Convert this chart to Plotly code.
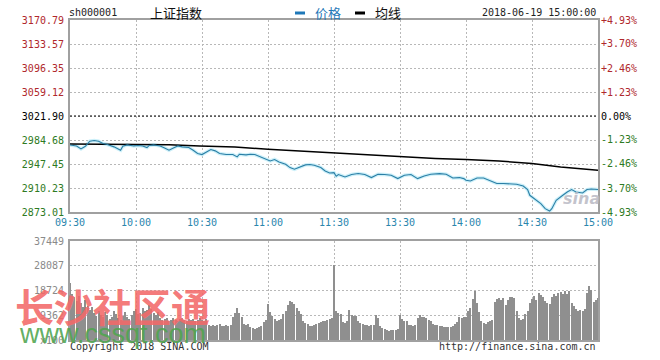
import plotly.graph_objects as go

# ---------------- data ----------------
prev_close = 3021.90
time_labels = ["09:30", "10:00", "10:30", "11:00", "11:30", "13:30", "14:00", "14:30", "15:00"]
time_ticks = [0, 30, 60, 90, 120, 150, 180, 210, 240]

price_ticks = [3170.79, 3133.57, 3096.35, 3059.12, 3021.90, 2984.68, 2947.45, 2910.23, 2873.01]
pct_ticks = [4.93, 3.70, 2.46, 1.23, 0.0, -1.23, -2.46, -3.70, -4.93]
pct_labels = ["+4.93%", "+3.70%", "+2.46%", "+1.23%", "0.00%", "-1.23%", "-2.46%", "-3.70%", "-4.93%"]

price_minutes = [0, 3, 5, 7, 9, 11, 13, 15, 17, 20, 23, 24, 26, 29, 31, 33, 35, 36, 38, 41,
                 43, 45, 47, 49, 51, 54, 56, 58, 60, 64, 66, 68, 71, 74, 76, 77, 80, 82, 84, 86,
                 89, 91, 93, 95, 98, 100, 102, 104, 107, 109, 111, 114, 116, 118, 120, 121, 122, 125, 128, 131,
                 134, 137, 140, 143, 146, 149, 152, 155, 158, 161, 164, 168, 171, 174, 177, 179, 180, 182, 185, 188,
                 191, 194, 197, 200, 203, 206, 208, 209, 212, 214, 216, 218, 219, 221, 224, 226, 228, 230, 233, 235,
                 237, 240]
price_values = [2977.0, 2975.5, 2970.9, 2975.0, 2982.8, 2983.9, 2982.8, 2979.2, 2977.7, 2974.0,
                2968.8, 2975.0, 2977.1, 2975.5, 2976.2, 2975.5, 2973.0, 2976.2, 2977.1, 2975.5,
                2972.4, 2968.8, 2972.4, 2975.5, 2974.0, 2973.0, 2968.8, 2963.7, 2962.1, 2969.9,
                2967.8, 2963.7, 2962.1, 2962.1, 2958.5, 2962.6, 2961.6, 2962.6, 2962.1, 2959.5,
                2954.4, 2952.2, 2954.4, 2950.7, 2947.1, 2941.9, 2939.3, 2941.9, 2946.1, 2946.6,
                2945.6, 2941.9, 2936.7, 2933.6, 2934.0, 2928.5, 2931.1, 2927.4, 2931.1, 2932.6,
                2931.1, 2926.4, 2931.6, 2931.1, 2930.0, 2924.8, 2930.0, 2931.1, 2924.8, 2928.9,
                2931.6, 2932.6, 2931.6, 2925.8, 2926.4, 2924.8, 2922.3, 2921.2, 2925.8, 2925.8,
                2921.2, 2917.1, 2917.1, 2916.0, 2916.0, 2913.4, 2907.8, 2898.9, 2891.2, 2886.0,
                2878.2, 2874.5, 2878.2, 2891.2, 2898.9, 2904.1, 2907.8, 2904.1, 2902.5, 2907.8,
                2908.7, 2907.8]

avg_minutes = [0, 30, 45, 59, 75, 90, 105, 120, 134, 150, 166, 180, 195, 210, 223, 240]
avg_values = [2978.5, 2978.0, 2977.5, 2975.5, 2973.8, 2970.4, 2967.5, 2964.5, 2961.1, 2958.5,
              2956.0, 2954.4, 2952.2, 2948.1, 2942.9, 2937.8]

vol_ticks = [0, 9362, 18724, 28087, 37449]
vol_tick_labels = ["x100", "9362", "18724", "28087", "37449"]

morning_volume = [
    21400,
    17500, 16200, 14800, 16800, 13800, 12600, 15200,
    12800, 11200, 12300, 10100, 9200, 10800, 9600,
    8800, 10500, 9400, 7800, 8600, 11000, 9700, 8200, 7600, 9000, 10400, 8700, 7900, 9300,
    10800, 11600, 9900, 10300, 12100, 10900, 11400, 13100, 11800, 10200, 9600, 10600,
    8200, 7600, 7900, 8400, 7300, 7700, 8100, 7400, 7000, 7800, 8300, 7500, 7200, 7900, 7600,
    8000, 7300, 7700, 8200, 7500, 7100, 7800,
    5800, 5400, 5600, 5200, 5500, 5900, 5300, 5100, 5700, 5400, 5600,
    8500, 10200, 12200, 10000, 8800,
    6200, 5800, 6000,
    4800, 4500, 4200, 4400, 4700, 5200,
    6800, 7600,
    13500,
    10500, 9200,
    7800, 7200, 7500, 7900,
    9800, 10800,
    13200, 14800, 14500, 13600,
    12000, 11000, 9800,
    7200, 6500, 6100,
    5400, 5200, 5500,
    6000, 6500, 6800, 7200, 7000, 7500, 7800, 8300,
    28200,
]
afternoon_volume = [
    11000, 10200, 9800,
    6800, 6500, 7000,
    11300,
    9400, 9000, 9200,
    7000, 6300, 6000,
    5700, 5500, 5400, 5600, 5800,
    9600,
    8400,
    5200, 4600,
    4200, 3800, 3500, 3600, 3700, 3900, 4300,
    9600,
    7800, 7300, 7000,
    5800, 5600, 5400, 5700,
    8200, 9400, 8800,
    8600, 8200, 7600, 7100,
    6000, 5700, 5500, 5400,
    5200, 5000, 4900, 4800, 5000, 5300,
    6200, 6800,
    8600, 8300, 8800, 8500,
    10800, 12000,
    15300,
    18400,
    14000,
    10500,
    7200, 6500, 6200, 6600, 7000,
    7700,
    14200, 15300,
    15800, 15200, 16000,
    13400,
    15000, 16200, 16300, 15800,
    11000,
    8300, 7600, 7900,
    9800, 11000,
    14000, 15400, 16800, 15000,
    17600, 17000, 16200,
    14800, 14000, 13500,
    16400, 17300, 16800, 17800,
    18300, 17200, 18600, 17500, 18500,
    13800, 12800, 11600,
    10800, 11200, 10900, 11800,
    17800, 20300, 19000,
    14500, 15200, 16000,
]
volume = morning_volume + afternoon_volume
volume_minutes = list(range(len(volume)))

# ---------------- styling ----------------
RED = "#b0282c"
GREEN = "#2e7a22"
BLACK = "#000000"
MONO = "DejaVu Sans Mono"
GRID = "#b8b8b8"
FRAME = "#a0a0a0"


def tick_color(v):
    if v > 0:
        return RED
    if v < 0:
        return GREEN
    return BLACK


price_ticktext = [f'<span style="color:{tick_color(p - prev_close)}">{p:.2f}</span>' for p in price_ticks]
pct_ticktext = [f'<span style="color:{tick_color(v)}">{t}</span>' for v, t in zip(pct_ticks, pct_labels)]
pct_values = [(p / prev_close - 1) * 100 for p in price_values]

fig = go.Figure()

# volume bars
fig.add_trace(go.Bar(x=volume_minutes, y=volume, xaxis="x2", yaxis="y2",
                     marker=dict(color="#8f8f8f", line=dict(width=0)), width=0.45,
                     hoverinfo="skip", showlegend=False))

# price halo + line
fig.add_trace(go.Scatter(x=price_minutes, y=price_values, mode="lines", xaxis="x", yaxis="y",
                         line=dict(color="rgba(200,238,248,0.9)", width=3.5),
                         hoverinfo="skip", showlegend=False))
fig.add_trace(go.Scatter(x=avg_minutes, y=avg_values, mode="lines", xaxis="x", yaxis="y",
                         line=dict(color=BLACK, width=1.5), name="均线", showlegend=False))
fig.add_trace(go.Scatter(x=price_minutes, y=price_values, mode="lines", xaxis="x", yaxis="y",
                         line=dict(color="#2b7fa6", width=1.1), name="价格", showlegend=False))
# invisible trace for the percentage axis
fig.add_trace(go.Scatter(x=price_minutes, y=pct_values, mode="lines", xaxis="x", yaxis="y3",
                         line=dict(width=0), opacity=0, hoverinfo="skip", showlegend=False))

grid_common = dict(showgrid=True, gridcolor=GRID, griddash="2px,2px", gridwidth=1,
                   showline=True, linecolor=FRAME, linewidth=2, mirror=True,
                   zeroline=False, ticks="")

fig.update_layout(
    width=660, height=360, autosize=False,
    margin=dict(l=70, r=62, t=20, b=20),
    paper_bgcolor="white", plot_bgcolor="white",
    bargap=0,
    xaxis=dict(domain=[0, 1], anchor="y", range=[0, 240], tickvals=time_ticks, ticktext=time_labels,
               tickfont=dict(family=MONO, size=10, color="#2a86ad"), **grid_common),
    yaxis=dict(domain=[0.4, 1], anchor="x", range=[price_ticks[-1], price_ticks[0]],
               tickvals=price_ticks, ticktext=price_ticktext,
               tickfont=dict(family=MONO, size=10), ticklabelstandoff=2, **grid_common),
    yaxis3=dict(overlaying="y", side="right", anchor="x", range=[-4.93, 4.93],
                tickvals=pct_ticks, ticktext=pct_ticktext, showgrid=False, zeroline=False,
                showline=False, ticks="", tickfont=dict(family=MONO, size=10), ticklabelstandoff=2),
    xaxis2=dict(domain=[0, 1], anchor="y2", matches="x", range=[0, 240], tickvals=time_ticks,
                showticklabels=False, **grid_common),
    yaxis2=dict(domain=[0, 0.309], anchor="x2", range=[0, 37449], tickvals=vol_ticks,
                ticktext=vol_tick_labels, tickfont=dict(family=MONO, size=10, color="#8a8a8a"),
                ticklabelstandoff=2, **grid_common),
)

# previous close reference line
fig.add_shape(type="line", xref="x", yref="y", x0=0, x1=240, y0=prev_close, y1=prev_close,
              line=dict(color=BLACK, width=1, dash="2px,2px"))

# header
Y_HEAD = (340 - 13) / 320
fig.add_annotation(text="sh000001", xref="paper", yref="paper", x=-3 / 528, y=Y_HEAD, xanchor="left",
                   yanchor="middle", showarrow=False, font=dict(family=MONO, size=10, color="#222"))
fig.add_annotation(text="上证指数", xref="paper", yref="paper", x=(148 - 70) / 528, y=Y_HEAD,
                   xanchor="left", yanchor="middle", showarrow=False,
                   font=dict(family="Noto Sans CJK SC", size=13, color="#111"))
fig.add_shape(type="line", xref="paper", yref="paper", x0=(295 - 70) / 528, x1=(305 - 70) / 528,
              y0=Y_HEAD, y1=Y_HEAD, line=dict(color="#1f78b8", width=3))
fig.add_annotation(text="价格", xref="paper", yref="paper", x=(313 - 70) / 528, y=Y_HEAD,
                   xanchor="left", yanchor="middle", showarrow=False,
                   font=dict(family="Noto Sans CJK SC", size=13, color="#1f78b8"))
fig.add_shape(type="line", xref="paper", yref="paper", x0=(355 - 70) / 528, x1=(365 - 70) / 528,
              y0=Y_HEAD, y1=Y_HEAD, line=dict(color=BLACK, width=3))
fig.add_annotation(text="均线", xref="paper", yref="paper", x=(373 - 70) / 528, y=Y_HEAD,
                   xanchor="left", yanchor="middle", showarrow=False,
                   font=dict(family="Noto Sans CJK SC", size=13, color="#111"))
fig.add_annotation(text="2018-06-19 15:00:00", xref="paper", yref="paper", x=1, y=Y_HEAD,
                   xanchor="right", yanchor="middle", showarrow=False,
                   font=dict(family=MONO, size=10, color="#222"))

# footer
Y_FOOT = (340 - 346) / 320
fig.add_annotation(text="Copyright 2018 SINA.COM", xref="paper", yref="paper", x=-2 / 528, y=Y_FOOT,
                   xanchor="left", yanchor="middle", showarrow=False,
                   font=dict(family=MONO, size=10, color="#333"))
fig.add_annotation(text="http://finance.sina.com.cn", xref="paper", yref="paper", x=1, y=Y_FOOT,
                   xanchor="right", yanchor="middle", showarrow=False,
                   font=dict(family=MONO, size=10, color="#333"))

# sina logo mark
fig.add_annotation(text="<b><i>sina</i></b>", xref="paper", yref="paper", x=(581 - 70) / 528,
                   y=(340 - 198) / 320, xanchor="center", yanchor="middle", showarrow=False,
                   font=dict(family="DejaVu Sans", size=16, color="rgba(185,185,195,0.85)"))

# overlaid watermark
fig.add_annotation(text="<b>长沙社区通</b>", xref="paper", yref="paper", x=(112 - 70) / 528,
                   y=(340 - 305) / 320, xanchor="center", yanchor="middle", showarrow=False,
                   font=dict(family="Noto Sans CJK SC", size=39, color="rgba(243,105,105,0.9)"))
fig.add_annotation(text="www.cssqt.com", xref="paper", yref="paper", x=(112 - 70) / 528,
                   y=(340 - 334) / 320, xanchor="center", yanchor="middle", showarrow=False,
                   font=dict(family="Liberation Sans", size=27, color="rgba(80,165,80,0.9)"))

fig.write_html("out.html", config={"displayModeBar": False},
               post_script="document.body.style.margin='0';")
